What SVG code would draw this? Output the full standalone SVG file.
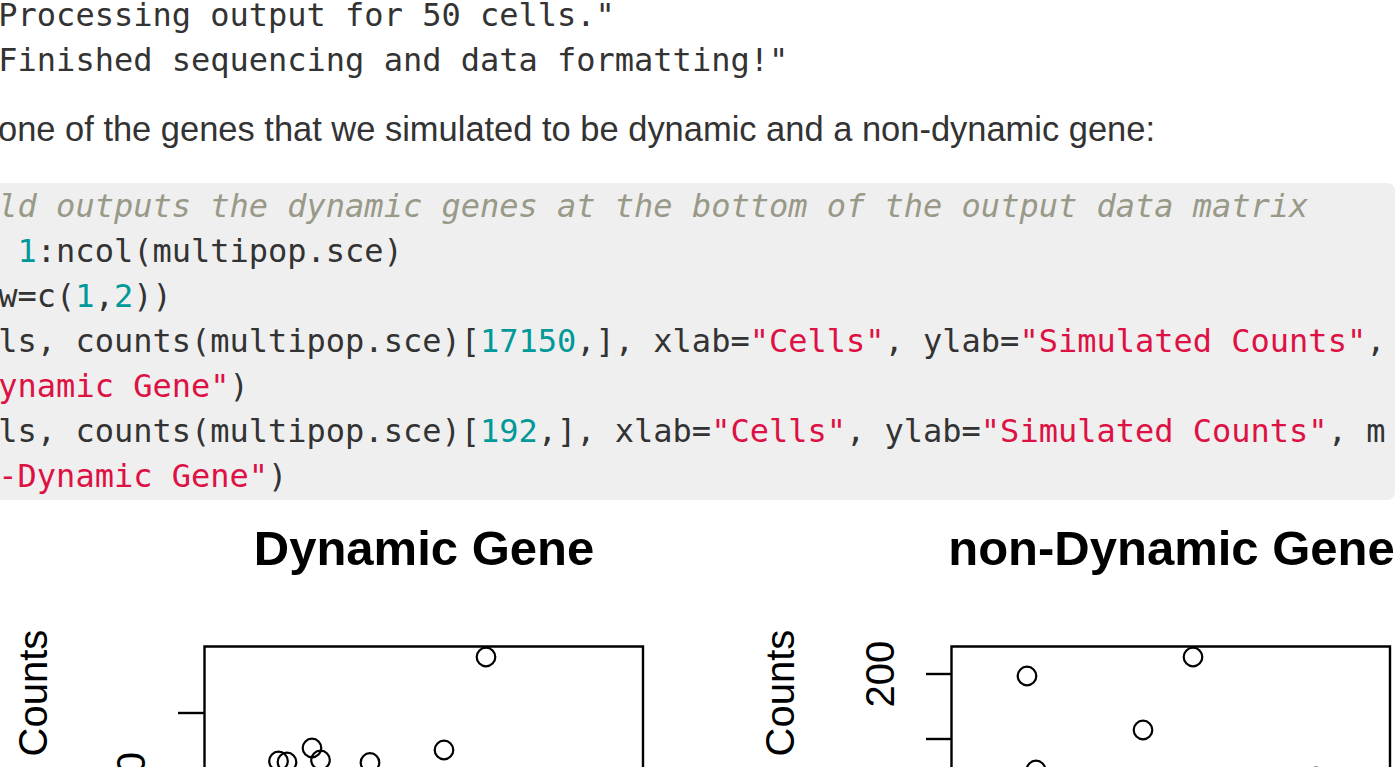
<svg xmlns="http://www.w3.org/2000/svg" width="1396" height="767" viewBox="0 0 1396 767">
  <style>
    .mono { font-family: "DejaVu Sans Mono", "Liberation Mono", monospace; font-size: 32px; fill: #333333; white-space: pre; }
    .cmt { fill: #999988; font-style: italic; }
    .num { fill: #009999; }
    .str { fill: #dd1144; }
    .prose { font-family: "Liberation Sans", Arial, sans-serif; font-size: 35.5px; fill: #333333; }
    .title { font-family: "Liberation Sans", Arial, sans-serif; font-size: 49px; font-weight: bold; fill: #000000; }
    .axlab { font-family: "Liberation Sans", Arial, sans-serif; font-size: 40px; fill: #000000; }
    .frame { fill: none; stroke: #000000; stroke-width: 2.4; }
    .tick { stroke: #000000; stroke-width: 2.4; }
    .pt { fill: none; stroke: #000000; stroke-width: 2.2; }
  </style>

  <rect x="0" y="0" width="1396" height="767" fill="#ffffff"/>

  <!-- console output -->
  <g id="output">
    <text class="mono" x="-1.7" y="26" xml:space="preserve">Processing output for 50 cells."</text>
    <text class="mono" x="-1.7" y="71" xml:space="preserve">Finished sequencing and data formatting!"</text>
  </g>

  <!-- paragraph -->
  <g id="paragraph">
    <text class="prose" x="-2" y="141" textLength="1157" lengthAdjust="spacingAndGlyphs">one of the genes that we simulated to be dynamic and a non-dynamic gene:</text>
  </g>

  <!-- code chunk -->
  <g id="code">
    <rect x="-10" y="183" width="1405" height="317" rx="8" ry="8" fill="#efefef"/>
    <text class="mono" x="-1.7" y="217" xml:space="preserve"><tspan class="cmt">ld outputs the dynamic genes at the bottom of the output data matrix</tspan></text>
    <text class="mono" x="-1.7" y="262" xml:space="preserve"> <tspan class="num">1</tspan>:ncol(multipop.sce)</text>
    <text class="mono" x="-1.7" y="307" xml:space="preserve">w=c(<tspan class="num">1</tspan>,<tspan class="num">2</tspan>))</text>
    <text class="mono" x="-1.7" y="352" xml:space="preserve">ls, counts(multipop.sce)[<tspan class="num">17150</tspan>,], xlab=<tspan class="str">"Cells"</tspan>, ylab=<tspan class="str">"Simulated Counts"</tspan>,</text>
    <text class="mono" x="-1.7" y="397" xml:space="preserve"><tspan class="str">ynamic Gene"</tspan>)</text>
    <text class="mono" x="-1.7" y="442" xml:space="preserve">ls, counts(multipop.sce)[<tspan class="num">192</tspan>,], xlab=<tspan class="str">"Cells"</tspan>, ylab=<tspan class="str">"Simulated Counts"</tspan>, m</text>
    <text class="mono" x="-1.7" y="487" xml:space="preserve"><tspan class="str">-Dynamic Gene"</tspan>)</text>
  </g>

  <!-- left scatter plot -->
  <g id="plot-dynamic">
    <text class="title" x="424" y="565" text-anchor="middle">Dynamic Gene</text>
    <text class="axlab" transform="translate(47,693) rotate(-90)" text-anchor="middle">Counts</text>
    <text class="axlab" transform="translate(145,752) rotate(-90)" text-anchor="end">0</text>
    <path class="frame" d="M204.5,780 V646.5 H643 V780"/>
    <line class="tick" x1="178" y1="713" x2="204.5" y2="713"/>
    <circle class="pt" cx="486" cy="657" r="9.3"/>
    <circle class="pt" cx="312" cy="748" r="9.3"/>
    <circle class="pt" cx="444" cy="750" r="9.3"/>
    <circle class="pt" cx="278.5" cy="761" r="9.3"/>
    <circle class="pt" cx="287" cy="762" r="9.3"/>
    <circle class="pt" cx="320.5" cy="760" r="9.3"/>
    <circle class="pt" cx="370" cy="762.5" r="9.3"/>
  </g>

  <!-- right scatter plot -->
  <g id="plot-nondynamic">
    <text class="title" x="1171.5" y="565" text-anchor="middle">non-Dynamic Gene</text>
    <text class="axlab" transform="translate(794,693) rotate(-90)" text-anchor="middle">Counts</text>
    <text class="axlab" transform="translate(894,674) rotate(-90)" text-anchor="middle">200</text>
    <path class="frame" d="M951.5,780 V646.5 H1390 V780"/>
    <line class="tick" x1="926" y1="674" x2="951.5" y2="674"/>
    <line class="tick" x1="926" y1="739" x2="951.5" y2="739"/>
    <circle class="pt" cx="1027" cy="676" r="9.3"/>
    <circle class="pt" cx="1193" cy="657" r="9.3"/>
    <circle class="pt" cx="1143" cy="730" r="9.3"/>
    <circle class="pt" cx="1036" cy="770" r="9.3"/>
    <circle class="pt" cx="1316" cy="777" r="9.3"/>
  </g>
</svg>
